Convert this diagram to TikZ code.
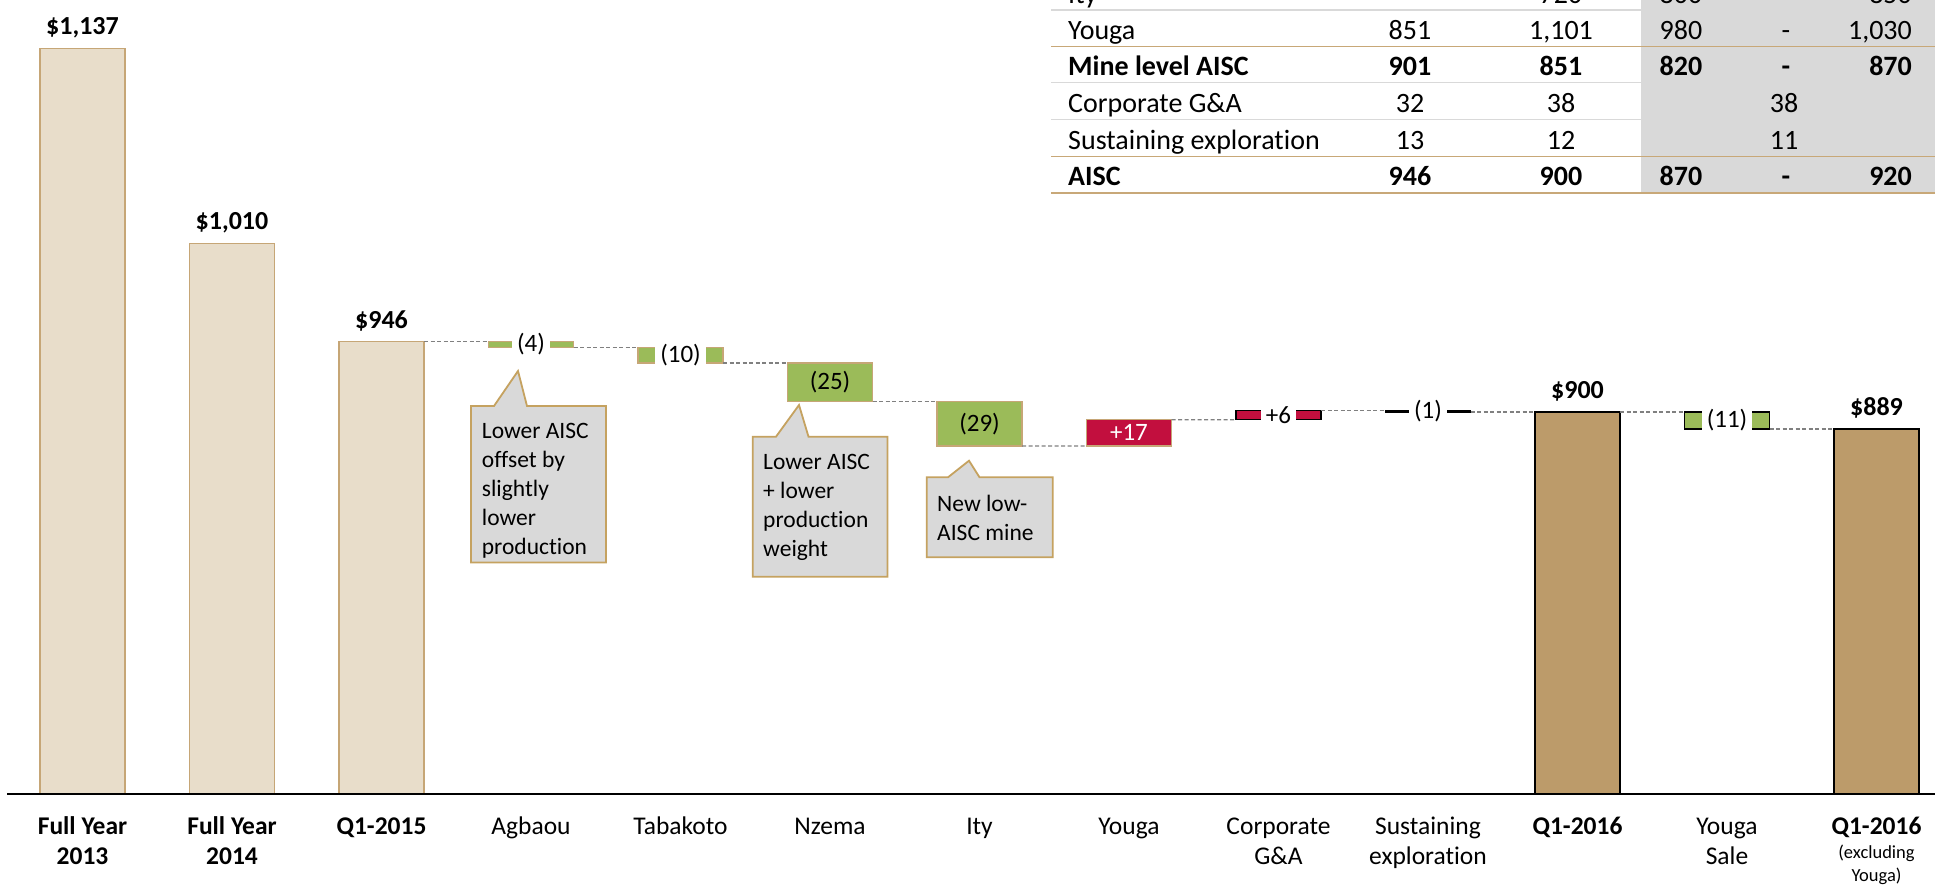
\documentclass[tikz,border=0pt]{standalone}
\usepackage{fontspec}
\setmainfont{Carlito}[Ligatures=NoCommon]
\definecolor{beige}{HTML}{E8DDCA}
\definecolor{tanb}{HTML}{C6A676}
\definecolor{goldf}{HTML}{BC9B6A}
\definecolor{grn}{HTML}{9BBB59}
\definecolor{crim}{HTML}{C20F3E}
\definecolor{callg}{HTML}{D9D9D9}
\definecolor{callb}{HTML}{C5A260}
\definecolor{dashg}{HTML}{808080}
\definecolor{tline}{HTML}{C8A878}
\definecolor{fline}{HTML}{D9D9D9}
\newcommand{\catfont}{\fontsize{25.5}{30}\selectfont}
\newcommand{\exfont}{\fontsize{18.5}{23}\selectfont}
\newcommand{\valfont}{\fontsize{26}{30}\selectfont\bfseries}
\newcommand{\wffont}{\fontsize{25}{30}\selectfont}
\newcommand{\callfont}{\fontsize{23.5}{29}\selectfont}
\newcommand{\tabfont}{\fontsize{28}{33}\selectfont}
\begin{document}
\begin{tikzpicture}[x=1pt,y=-1pt,
  bar/.style={draw, line width=1.5pt, inner sep=0pt, outer sep=0pt, minimum width=85pt, anchor=north west},
  histbar/.style={bar, fill=beige, draw=tanb},
  totbar/.style={bar, fill=goldf, draw=black},
  gbar/.style={bar, fill=grn, draw=tanb},
  gbarb/.style={bar, fill=grn, draw=black},
  rbar/.style={bar, fill=crim, draw=tanb},
  rbarb/.style={bar, fill=crim, draw=black},
  kbar/.style={bar, fill=black, draw=black},
  conn/.style={draw=dashg, line width=1.3pt, dash pattern=on 4pt off 2.5pt},
  cat/.style={anchor=base, inner sep=0pt, font=\catfont},
  catb/.style={anchor=base, inner sep=0pt, font=\catfont\bfseries},
  val/.style={anchor=base, inner sep=0pt, font=\valfont},
  wfw/.style={fill=white, inner xsep=5pt, inner ysep=0.5pt, font=\wffont},
  wfin/.style={inner sep=0pt, font=\wffont},
  callout/.style={fill=callg, draw=callb, line width=1.8pt, line join=miter},
  calltxt/.style={anchor=base west, align=left, inner sep=0pt, font=\callfont},
  tl/.style={anchor=base west, inner sep=0pt, font=\tabfont},
  tc/.style={anchor=base, inner sep=0pt, font=\tabfont},
  tr/.style={anchor=base east, inner sep=0pt, font=\tabfont}
]
\useasboundingbox (0,0) rectangle (1935,889);
\fill[white] (0,0) rectangle (1935,889);

% ---------- table ----------
\begin{scope}
\clip (0,0) rectangle (1935,889);
\fill[callg] (1641,0) rectangle (1935,193);
\draw[fline, line width=1.2pt] (1051,10) -- (1641,10);
\draw[fline, line width=1.2pt] (1051,82.5) -- (1641,82.5);
\draw[fline, line width=1.2pt] (1051,119.5) -- (1641,119.5);
\draw[tline, line width=1.6pt] (1051,46.5) -- (1935,46.5);
\draw[tline, line width=1.6pt] (1051,156.5) -- (1935,156.5);
\draw[tline, line width=1.6pt] (1051,193) -- (1935,193);
% Ity row (mostly cut off)
\node[tl] (tityl) at (1068,3.5) {Ity};
\node[tc] (tity2) at (1561,3.5) {720};
\node[tc] (tity3) at (1681,3.5) {800};
\node[tr] (tity5) at (1912,3.5) {850};
% Youga
\node[tl] (tyol) at (1068,39.2) {Youga};
\node[tc] (tyo1) at (1410,39.2) {851};
\node[tc] (tyo2) at (1561,39.2) {1,101};
\node[tc] (tyo3) at (1681,39.2) {980};
\node[tc] (tyo4) at (1786,39.2) {-};
\node[tr] (tyo5) at (1912,39.2) {1,030};
% Mine level
\node[tl, font=\tabfont\bfseries] (tmil) at (1068,75.2) {Mine level AISC};
\node[tc, font=\tabfont\bfseries] (tmi1) at (1410,75.2) {901};
\node[tc, font=\tabfont\bfseries] (tmi2) at (1561,75.2) {851};
\node[tc, font=\tabfont\bfseries] (tmi3) at (1681,75.2) {820};
\node[tc, font=\tabfont\bfseries] (tmi4) at (1786,75.2) {-};
\node[tr, font=\tabfont\bfseries] (tmi5) at (1912,75.2) {870};
% Corporate
\node[tl] (tcol) at (1068,112.2) {Corporate G\&A};
\node[tc] (tco1) at (1410,112.2) {32};
\node[tc] (tco2) at (1561,112.2) {38};
\node[tc] (tco3) at (1784,112.2) {38};
% Sustaining
\node[tl] (tsul) at (1068,149.2) {Sustaining exploration};
\node[tc] (tsu1) at (1410,149.2) {13};
\node[tc] (tsu2) at (1561,149.2) {12};
\node[tc] (tsu3) at (1784,149.2) {11};
% AISC
\node[tl, font=\tabfont\bfseries] (tail) at (1068,185.7) {AISC};
\node[tc, font=\tabfont\bfseries] (tai1) at (1410,185.7) {946};
\node[tc, font=\tabfont\bfseries] (tai2) at (1561,185.7) {900};
\node[tc, font=\tabfont\bfseries] (tai3) at (1681,185.7) {870};
\node[tc, font=\tabfont\bfseries] (tai4) at (1786,185.7) {-};
\node[tr, font=\tabfont\bfseries] (tai5) at (1912,185.7) {920};
\end{scope}

% ---------- bars ----------
\node[histbar, minimum height=745.7pt] (b0) at (40,48.3) {};
\node[histbar, minimum height=550.7pt] (b1) at (189.5,243.3) {};
\node[histbar, minimum height=452.5pt] (b2) at (339,341.5) {};
\node[gbar, minimum height=6.1pt] (agb) at (488.5,341.5) {};
\node[gbar, minimum height=15.4pt] (tab) at (638,347.6) {};
\node[gbar, minimum height=38.4pt] (nze) at (787.5,363.0) {};
\node[gbar, minimum height=44.5pt] (ity) at (937,401.4) {};
\node[rbar, minimum height=26.2pt] (you) at (1086.5,419.7) {};
\node[rbarb, minimum height=9.1pt] (cga) at (1236,410.6) {};
\node[kbar, minimum height=1.5pt] (sus) at (1385.5,410.6) {};
\node[totbar, minimum height=381.9pt] (q16) at (1535,412.1) {};
\node[gbarb, minimum height=16.8pt] (ysa) at (1684.5,412.1) {};
\node[totbar, minimum height=365.1pt] (q16x) at (1834,428.9) {};

% ---------- connectors ----------
\draw[conn] (b2.north east) -- (agb.north west);
\draw[conn] (agb.south east) -- (tab.north west);
\draw[conn] (tab.south east) -- (nze.north west);
\draw[conn] (nze.south east) -- (ity.north west);
\draw[conn] (ity.south east) -- (you.south west);
\draw[conn] (you.north east) -- (cga.south west);
\draw[conn] (cga.north east) -- (sus.north west);
\draw[conn] (sus.south east) -- (q16.north west);
\draw[conn] (q16.north east) -- (ysa.north west);
\draw[conn] (ysa.south east) -- (q16x.north west);

% ---------- axis ----------
\coordinate (axl) at (7,794);
\coordinate (axr) at (1935,794);
\draw[black, line width=2pt] (axl) -- (axr);

% ---------- value labels ----------
\node[val] (v0) at (82.5,34.9) {\$1,137};
\node[val] (v1) at (232,229.9) {\$1,010};
\node[val] (v2) at (381.5,328.1) {\$946};
\node[val] (v10) at (1577.5,398.7) {\$900};
\node[val] (v12) at (1876.5,415.5) {\$889};

% ---------- waterfall labels ----------
\node[wfw] (wagb) at (agb.center) {(4)};
\node[wfw] (wtab) at (tab.center) {(10)};
\node[wfin] (wnze) at (nze.center) {(25)};
\node[wfin] (wity) at (ity.center) {(29)};
\node[wfin, text=white] (wyou) at (you.center) {+17};
\node[wfw] (wcga) at (cga.center) {+6};
\node[wfw] (wsus) at (sus.center) {(1)};
\node[wfw] (wysa) at (ysa.center) {(11)};

% ---------- callouts ----------
\draw[callout] (471,406) -- (494,406) -- (518,371) -- (527,406) -- (606,406) -- (606,562.5) -- (471,562.5) -- cycle;
\node[calltxt] (c1t) at (481.7,554.5) {Lower AISC\\offset by\\slightly\\lower\\production};
\draw[callout] (752.7,436.7) -- (776,436.7) -- (799,405) -- (808.5,436.7) -- (887.5,436.7) -- (887.5,576.7) -- (752.7,576.7) -- cycle;
\node[calltxt] (c2t) at (763,556.5) {Lower AISC\\+ lower\\production\\weight};
\draw[callout] (926.8,477.3) -- (948,477.3) -- (969,460.7) -- (979.5,477.3) -- (1052.7,477.3) -- (1052.7,557.3) -- (926.8,557.3) -- cycle;
\node[calltxt] (c3t) at (937,540) {New low-\\AISC mine};

% ---------- category labels ----------
\node[catb] (l0a) at (82.5,834) {Full Year};
\node[catb] (l0b) at (82.5,864) {2013};
\node[catb] (l1a) at (232,834) {Full Year};
\node[catb] (l1b) at (232,864) {2014};
\node[catb] (l2a) at (381.5,834) {Q1-2015};
\node[cat] (l3a) at (531,834) {Agbaou};
\node[cat] (l4a) at (680.5,834) {Tabakoto};
\node[cat] (l5a) at (830,834) {Nzema};
\node[cat] (l6a) at (979.5,834) {Ity};
\node[cat] (l7a) at (1129,834) {Youga};
\node[cat] (l8a) at (1278.5,834) {Corporate};
\node[cat] (l8b) at (1278.5,864) {G\&A};
\node[cat] (l9a) at (1428,834) {Sustaining};
\node[cat] (l9b) at (1428,864) {exploration};
\node[catb] (l10a) at (1577.5,834) {Q1-2016};
\node[cat] (l11a) at (1727,834) {Youga};
\node[cat] (l11b) at (1727,864) {Sale};
\node[catb] (l12a) at (1876.5,834) {Q1-2016};
\node[anchor=base, inner sep=0pt, font=\exfont] (l12b) at (1876.5,858) {(excluding};
\node[anchor=base, inner sep=0pt, font=\exfont] (l12c) at (1876.5,881) {Youga)};
\end{tikzpicture}
\end{document}
